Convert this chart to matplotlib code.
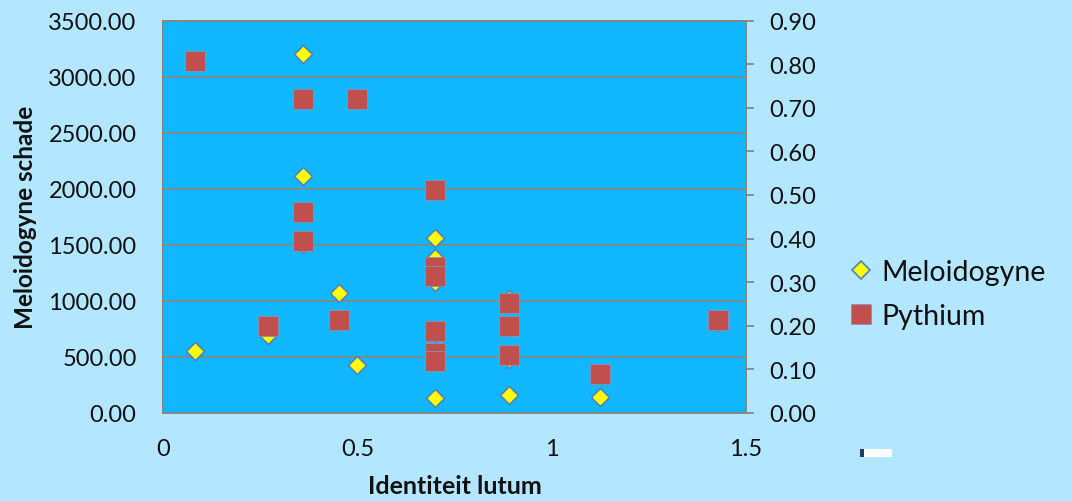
"""Recreate scatter chart: Meloidogyne schade / Pythium vs Identiteit lutum."""

import matplotlib

matplotlib.use("Agg")
import matplotlib.pyplot as plt
from matplotlib.lines import Line2D
from matplotlib.patches import Rectangle
from matplotlib.ticker import FormatStrFormatter, FixedLocator

plt.rcParams["font.family"] = ["Lato", "DejaVu Sans"]

# data
mel_x = [0.082, 0.27, 0.361, 0.361, 0.361, 0.454, 0.50, 0.70, 0.70, 0.70,
         0.70, 0.70, 0.70, 0.889, 0.889, 0.889, 1.124, 1.428]
mel_y = [553, 695, 3200, 2112, 1506, 1070, 428, 1560, 1380, 1170,
         1300, 550, 134, 1016, 480, 160, 143, 811]

pyt_x = [0.082, 0.27, 0.361, 0.361, 0.361, 0.454, 0.50, 0.70, 0.70, 0.70,
         0.70, 0.70, 0.70, 0.889, 0.889, 0.889, 1.124, 1.428]
pyt_y = [0.808, 0.199, 0.719, 0.46, 0.394, 0.213, 0.721, 0.511, 0.334, 0.314,
         0.188, 0.137, 0.119, 0.252, 0.199, 0.133, 0.089, 0.213]

x_ticks = [0, 0.5, 1, 1.5]
x_tick_labels = ["0", "0.5", "1", "1.5"]
left_ticks = [0, 500, 1000, 1500, 2000, 2500, 3000, 3500]
right_ticks = [0.0, 0.1, 0.2, 0.3, 0.4, 0.5, 0.6, 0.7, 0.8, 0.9]

BG = "#B3E7FF"
PLOT_BG = "#12B8FF"
GRID = "#868686"
TEXT = "#111111"

fig = plt.figure(figsize=(10.72, 5.02), dpi=100, facecolor=BG)
ax = fig.add_axes([163 / 1072, 1 - 414 / 502, (746 - 163) / 1072, (414 - 21.5) / 502])
ax.set_facecolor(PLOT_BG)

ax.set_xlim(0, 1.5)
ax.set_ylim(0, 3500)
ax.xaxis.set_major_locator(FixedLocator(x_ticks))
ax.set_xticklabels(x_tick_labels)
ax.yaxis.set_major_locator(FixedLocator(left_ticks))
ax.yaxis.set_major_formatter(FormatStrFormatter("%.2f"))
ax.grid(axis="y", color=GRID, linewidth=1.3)
ax.set_axisbelow(True)
ax.tick_params(axis="both", length=0, labelsize=17, colors=TEXT)
ax.tick_params(axis="y", pad=19)
ax.tick_params(axis="x", pad=18)
for side in ["left", "bottom", "right", "top"]:
    ax.spines[side].set_color(GRID)
    ax.spines[side].set_linewidth(1.3)

ax.scatter(mel_x, mel_y, marker="D", s=85, facecolor="#FFFF00",
           edgecolor="#4F81BD", linewidth=1.2, zorder=3)

ax2 = ax.twinx()
ax2.set_ylim(0, 0.9)
ax2.yaxis.set_major_locator(FixedLocator(right_ticks))
ax2.yaxis.set_major_formatter(FormatStrFormatter("%.2f"))
ax2.tick_params(axis="y", length=6, width=1.3, color=GRID, labelsize=17,
                colors=TEXT, pad=11)
for side in ["left", "bottom", "right", "top"]:
    ax2.spines[side].set_color(GRID)
    ax2.spines[side].set_linewidth(1.3)

ax2.scatter(pyt_x, pyt_y, marker="s", s=210, facecolor="#C0504D",
            edgecolor="#8E8FB8", linewidth=0.6, zorder=3)

ax.set_ylabel("Meloidogyne schade", fontsize=17.5, fontweight="bold",
              color=TEXT, labelpad=8)
ax.set_xlabel("Identiteit lutum", fontsize=18, fontweight="bold",
              color=TEXT, labelpad=11)

handles = [
    Line2D([], [], linestyle="none", marker="D", markersize=9.5,
           markerfacecolor="#FFFF00", markeredgecolor="#4F81BD",
           markeredgewidth=1.2),
    Line2D([], [], linestyle="none", marker="s", markersize=14,
           markerfacecolor="#C0504D", markeredgecolor="#8E8FB8",
           markeredgewidth=0.6),
]
fig.legend(handles, ["Meloidogyne", "Pythium"], loc="center left",
           bbox_to_anchor=(824 / 1072, 1 - 295 / 502), frameon=False,
           fontsize=20.5, handlelength=0.8, handletextpad=0.3,
           labelspacing=0.6, labelcolor=TEXT)

# tiny embedded icon next to the legend
fig.patches.append(Rectangle((860 / 1072, 1 - 458 / 502), 32 / 1072, 8 / 502,
                             transform=fig.transFigure, facecolor="white",
                             edgecolor="none"))
fig.patches.append(Rectangle((860 / 1072, 1 - 458 / 502), 4 / 1072, 8 / 502,
                             transform=fig.transFigure, facecolor="#1F3C66",
                             edgecolor="none"))

fig.savefig("out.png", dpi=100, facecolor=BG)
